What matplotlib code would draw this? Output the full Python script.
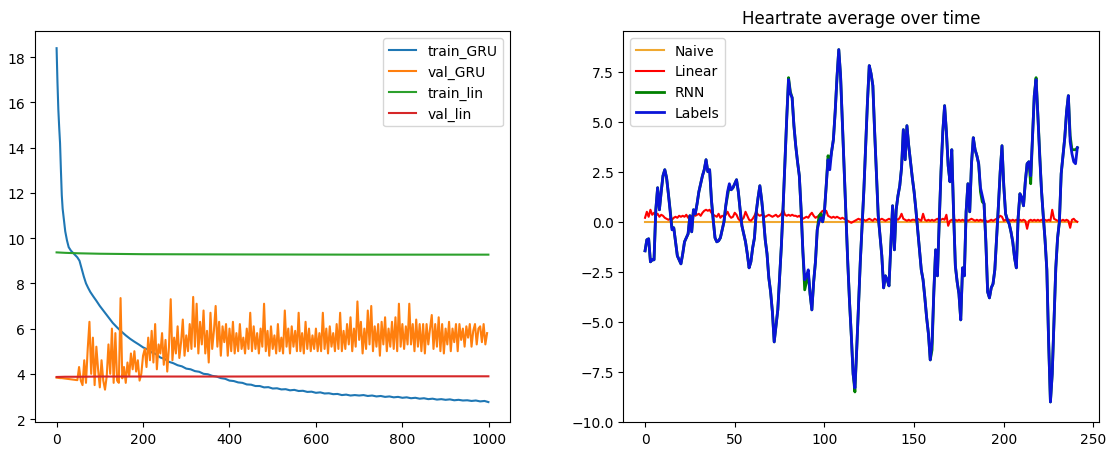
import numpy as np
import matplotlib
matplotlib.use("Agg")
import matplotlib.pyplot as plt

# ---- left panel: loss curves ----
gru_train_epochs = [0, 2, 4, 6, 8, 10, 12, 14, 17, 20, 24, 28, 33, 38, 43, 48, 53, 58, 63, 68,
                    73, 78, 85, 92, 100, 110, 120, 130, 140, 150, 160, 170, 180, 190, 200,
                    210, 220, 230, 240, 250, 260, 270, 280, 290, 300, 310, 320, 330, 340, 350,
                    360, 370, 380, 390, 400, 410, 420, 430, 440, 450, 460, 470, 480, 490, 500,
                    510, 520, 530, 540, 550, 560, 570, 580, 590, 600, 610, 620, 630, 640, 650,
                    660, 670, 680, 690, 700, 710, 720, 730, 740, 750, 760, 770, 780, 790, 800,
                    810, 820, 830, 840, 850, 860, 870, 880, 890, 900, 910, 920, 930, 940, 950,
                    960, 970, 980, 990, 999]
train_gru = [18.4, 16.9, 15.7, 14.9, 14.2, 13.0, 11.9, 11.3, 10.8, 10.3, 9.9, 9.6, 9.45, 9.35, 9.25,
             9.15, 9.0, 8.65, 8.3, 8.0, 7.8, 7.62, 7.42, 7.23, 7.0, 6.75, 6.5, 6.25, 6.05, 5.87,
             5.7, 5.55, 5.42, 5.3, 5.17,
             5.08, 4.95, 4.87, 4.72, 4.66, 4.53, 4.47, 4.38, 4.33, 4.23, 4.2, 4.12, 4.09, 4.0, 3.98,
             3.91, 3.88, 3.81, 3.78, 3.7, 3.68, 3.62, 3.6, 3.53, 3.52, 3.46, 3.46, 3.4, 3.41, 3.35,
             3.36, 3.31, 3.32, 3.27, 3.29, 3.24, 3.25, 3.2, 3.21, 3.16, 3.18, 3.13, 3.14, 3.1, 3.11,
             3.06, 3.08, 3.04, 3.06, 3.04, 3.06, 3.02, 3.04, 3.0, 3.02, 2.98, 3.0, 2.96, 2.98, 2.94,
             2.96, 2.92, 2.94, 2.9, 2.92, 2.88, 2.9, 2.86, 2.88, 2.85, 2.87, 2.83, 2.85, 2.82, 2.83,
             2.8, 2.82, 2.78, 2.8, 2.75]

# val_GRU sampled every 4 epochs (0 .. 996)
val_gru = [
    # 0-48
    3.83, 3.82, 3.81, 3.81, 3.80, 3.79, 3.78, 3.77, 3.76, 3.75, 3.74, 3.73, 3.72,
    # 52-196
    4.3, 3.7, 3.5, 4.6, 3.6, 5.1, 6.3, 4.0, 5.6, 3.5, 5.2, 4.2, 3.4, 4.6, 3.7, 3.3, 3.9, 5.3,
    4.0, 6.0, 3.6, 5.8, 3.7, 3.6, 7.35, 3.8, 4.3, 3.6, 4.5, 3.9, 4.9, 4.2, 5.0, 4.1, 4.6, 3.7, 4.0,
    # 200-260
    4.8, 5.1, 4.3, 5.6, 4.6, 5.9, 4.5, 6.2, 4.2, 5.3, 4.9, 5.8, 4.4, 5.5, 4.1, 5.2,
    # 264-400
    7.3, 4.6, 5.6, 4.9, 6.1, 4.7, 5.4, 6.4, 4.8, 5.7, 5.0, 6.2, 5.1, 7.4, 5.2, 7.1, 4.9, 6.3,
    5.3, 6.8, 4.9, 5.9, 4.5, 6.7, 5.1, 5.9, 7.0, 5.2, 6.3, 4.8, 6.1, 5.4, 6.2, 4.8, 6.0,
    # 404-660
    5.0, 6.3, 4.9, 5.8, 5.0, 6.2, 5.1, 5.6, 4.9, 6.0, 5.1, 6.7, 5.0, 6.1, 5.1, 5.8, 4.9, 6.0,
    5.2, 7.1, 5.0, 5.9, 4.8, 6.1, 5.1, 5.7, 4.9, 6.2, 5.0, 5.6, 4.9, 6.8, 5.2, 6.0, 4.9, 6.1,
    5.2, 5.9, 5.0, 6.7, 5.0, 5.8, 4.9, 6.3, 5.1, 6.0, 5.0, 5.7, 5.1, 6.0, 5.0, 5.8, 5.0, 6.7,
    5.1, 6.0, 4.9, 6.1, 5.2, 5.8, 5.0, 6.2, 5.1, 6.7, 5.0,
    # 664-996
    5.9, 5.1, 6.2, 5.3, 6.5, 5.0, 6.0, 5.2, 7.2, 5.5, 6.3, 4.9, 6.0, 5.1, 6.8, 5.3, 7.0, 5.0,
    6.1, 5.2, 6.2, 4.8, 6.3, 5.3, 6.5, 5.0, 6.0, 5.2, 6.3, 5.1, 6.5, 5.0, 7.1, 5.2, 6.2, 5.1,
    6.1, 5.3, 7.1, 5.3, 6.2, 5.0, 6.4, 5.2, 6.2, 5.0, 6.2, 4.9, 6.2, 5.3, 6.0, 6.6, 5.1, 6.2,
    5.2, 6.5, 5.0, 6.2, 4.9, 6.0, 5.3, 6.3, 5.0, 6.0, 5.4, 6.2, 5.0, 6.2, 5.5, 6.0, 5.2, 6.1,
    5.6, 6.2, 5.2, 5.9, 6.2, 5.3, 6.0, 6.1, 5.4, 6.2, 5.3, 5.8,
]
val_gru_epochs = np.arange(len(val_gru)) * 4

lin_epochs = [0, 20, 50, 100, 200, 400, 700, 999]
train_lin = [9.37, 9.35, 9.33, 9.31, 9.29, 9.28, 9.27, 9.27]
val_lin = [3.86, 3.87, 3.87, 3.88, 3.88, 3.88, 3.89, 3.89]

# ---- right panel: heartrate average over time ----
labels = [
    -1.45, -0.9, -0.85, -2.0, -1.9, -1.9, 0.6, 1.7, 0.6, 1.5,      # 0
    2.3, 2.6, 2.2, 1.4, 0.5, -0.4, -0.3, -1.0, -1.7, -1.9,          # 10
    -2.1, -1.6, -1.0, -0.8, -0.6, 0.3, -0.5, 0.6, 0.4, 0.9,         # 20
    1.5, 1.9, 2.3, 2.6, 3.1, 2.5, 2.6, 1.1, 0.1, -0.8,              # 30
    -1.0, -0.95, -0.8, -0.4, 0.0, 0.8, 1.5, 1.9, 1.6, 1.7,          # 40
    1.9, 2.1, 1.5, 0.6, -0.2, -0.6, -1.0, -1.6, -2.3, -2.0,         # 50
    -1.3, -0.8, 0.5, 1.2, 1.8, 1.1, 0.2, -0.9, -1.6, -2.8,          # 60
    -3.5, -4.5, -6.0, -5.2, -4.4, -2.8, -1.2, 0.8, 3.0, 5.2,        # 70
    7.1, 6.4, 6.2, 4.8, 3.8, 3.0, 2.3, 0.6, -1.5, -2.9,             # 80
    -2.7, -2.4, -3.6, -4.4, -3.0, -2.0, -0.4, 0.0, 0.2, 0.0,        # 90
    0.5, 1.8, 3.1, 2.6, 3.5, 4.1, 5.5, 7.2, 8.6, 7.3,               # 100
    5.0, 2.6, 0.3, -2.0, -4.0, -5.7, -7.6, -8.3, -6.4, -4.2,        # 110
    -2.0, -0.2, 1.6, 3.8, 6.0, 7.8, 7.4, 6.8, 4.5, 2.4,             # 120
    0.3, -0.7, -1.7, -3.3, -2.7, -2.9, -3.2, -1.2, 0.8, -1.4,       # 130
    0.6, 1.3, 1.8, 2.7, 4.6, 3.1, 4.8, 3.8, 3.0, 2.2,               # 140
    1.5, 0.6, -0.4, -1.4, -2.4, -2.9, -3.8, -4.8, -5.6, -6.9,       # 150
    -6.0, -3.5, -1.4, -2.7, 0.0, 2.5, 4.5, 5.8, 4.5, 2.8,           # 160
    2.0, 3.6, 0.5, -2.2, -3.0, -3.6, -4.9, -2.3, -2.7, 0.5,         # 170
    1.9, 0.5, 2.9, 4.2, 3.6, 3.3, 2.9, 1.7, 1.3, 0.9,               # 180
    -1.0, -3.5, -3.8, -3.3, -3.1, -2.4, -0.8, 0.8, 2.5, 3.8,        # 190
    1.8, 0.4, 0.1, -0.1, -0.5, -1.0, -1.8, -2.3, 0.2, 1.4,          # 200
    1.2, 0.8, 2.0, 2.9, 3.0, 2.3, 4.2, 6.3, 7.1, 5.3,               # 210
    3.3, 1.6, 0.3, -0.9, -2.4, -6.0, -9.0, -7.6, -5.0, -2.3,        # 220
    -0.8, 0.0, 2.4, 3.3, 4.2, 5.5, 6.3, 4.0, 3.4, 3.0,              # 230
    2.9, 3.7,                                                        # 240
]
rnn = [
    -1.45, -0.9, -0.85, -2.0, -1.9, -1.9, 0.6, 1.7, 0.6, 1.5,      # 0
    2.3, 2.6, 2.2, 1.4, 0.6, -0.3, -0.3, -1.0, -1.7, -1.9,          # 10
    -2.1, -1.6, -1.0, -0.8, -0.6, 0.3, -0.5, 0.6, 0.4, 0.9,         # 20
    1.5, 1.9, 2.3, 2.6, 3.1, 2.5, 2.6, 1.1, 0.1, -0.8,              # 30
    -1.0, -0.95, -0.8, -0.4, 0.0, 0.8, 1.3, 1.8, 1.6, 1.7,          # 40
    1.9, 2.1, 1.5, 0.6, -0.2, -0.6, -1.0, -1.6, -2.3, -2.0,         # 50
    -1.3, -0.8, 0.5, 1.2, 1.8, 1.1, 0.2, -0.9, -1.6, -2.8,          # 60
    -3.5, -4.5, -6.0, -5.2, -4.4, -2.8, -1.2, 0.8, 3.0, 5.2,        # 70
    7.2, 6.5, 6.2, 4.8, 3.8, 3.0, 2.3, 0.6, -1.5, -3.4,             # 80
    -3.0, -2.6, -3.6, -4.4, -3.0, -2.0, -0.4, 0.3, 0.4, 0.0,        # 90
    0.5, 1.8, 3.3, 3.0, 3.5, 4.1, 5.5, 7.2, 8.6, 7.3,               # 100
    5.0, 2.6, 0.3, -2.0, -4.0, -5.7, -7.6, -8.5, -6.4, -4.2,        # 110
    -2.0, -0.2, 1.6, 3.8, 6.0, 7.8, 7.4, 6.8, 4.5, 2.4,             # 120
    0.3, -0.7, -1.7, -3.3, -2.7, -2.9, -3.2, -1.2, 0.8, -1.4,       # 130
    0.6, 1.3, 1.8, 2.7, 4.6, 3.1, 4.8, 3.8, 3.0, 2.2,               # 140
    1.5, 0.6, -0.4, -1.4, -2.4, -2.9, -3.8, -4.8, -5.6, -6.9,       # 150
    -6.4, -3.5, -1.4, -2.7, 0.0, 2.5, 4.5, 5.8, 4.5, 2.8,           # 160
    2.0, 3.6, 0.5, -2.2, -3.0, -3.6, -4.9, -2.3, -2.7, 0.5,         # 170
    1.9, 0.5, 2.9, 4.2, 3.6, 3.3, 2.9, 1.5, 1.0, 0.9,               # 180
    -1.0, -3.5, -3.8, -3.3, -3.1, -2.4, -0.8, 0.8, 2.5, 3.8,        # 190
    1.8, 0.4, 0.1, -0.1, -0.5, -1.0, -1.8, -2.3, 0.2, 1.4,          # 200
    1.2, 0.8, 2.0, 2.9, 3.0, 1.9, 4.2, 6.3, 7.2, 5.3,               # 210
    3.3, 1.6, 0.3, -0.9, -2.4, -6.0, -9.0, -7.6, -5.0, -2.3,        # 220
    -0.8, 0.0, 2.4, 3.3, 4.2, 5.5, 6.3, 4.3, 3.6, 3.6,              # 230
    3.6, 3.7,                                                        # 240
]
linear = [
    0.20, 0.50, 0.25, 0.60, 0.35, 0.45, 0.30, 0.40, 0.25, 0.35,
    0.30, 0.20, 0.15, 0.10, 0.15, 0.10, 0.20, 0.25, 0.20, 0.30,
    0.25, 0.30, 0.25, 0.35, 0.20, 0.30, 0.25, 0.40, 0.30, 0.35,
    0.40, 0.30, 0.45, 0.55, 0.60, 0.55, 0.60, 0.45, 0.35, 0.30,
    0.25, 0.40, 0.20, 0.30, 0.25, 0.35, 0.50, 0.30, 0.20, 0.25,
    0.45, 0.35, 0.15, 0.05, 0.10, 0.20, 0.50, 0.30, 0.10, 0.05,
    0.15, 0.30, 0.50, 0.35, 0.30, 0.35, 0.30, 0.25, 0.30, 0.35,
    0.30, 0.25, 0.30, 0.35, 0.25, 0.30, 0.40, 0.60, 0.35, 0.30,
    0.35, 0.30, 0.35, 0.30, 0.30, 0.25, 0.30, 0.20, 0.15, 0.20,
    0.25, 0.20, 0.35, 0.45, 0.30, 0.20, 0.25, 0.30, 0.45, 0.55,
    0.50, 0.55, 0.30, 0.25, 0.20, 0.25, 0.20, 0.25, 0.20, 0.15,
    0.20, 0.15, 0.10, 0.05, 0.00, -0.05, 0.00, 0.05, 0.10, 0.15,
    0.10, 0.15, 0.10, 0.05, 0.10, 0.15, 0.10, 0.05, 0.15, 0.10,
    0.05, 0.10, 0.15, 0.10, 0.05, 0.10, 0.15, 0.10, 0.05, 0.10,
    0.15, 0.10, 0.20, 0.40, 0.15, 0.10, 0.05, 0.10, 0.05, 0.10,
    0.10, 0.05, 0.15, 0.10, 0.05, 0.40, 0.10, 0.05, 0.10, 0.05,
    0.10, 0.05, 0.10, 0.15, 0.05, 0.10, 0.15, 0.10, 0.35, -0.20,
    0.05, 0.10, 0.05, 0.10, 0.05, 0.10, 0.05, 0.10, 0.05, 0.10,
    0.05, 0.10, 0.15, 0.10, 0.05, 0.10, 0.05, 0.10, 0.05, 0.10,
    0.05, 0.00, 0.05, 0.10, 0.05, 0.10, 0.15, 0.20, 0.30, 0.25,
    0.05, 0.10, 0.05, 0.10, 0.05, 0.10, 0.05, 0.10, 0.05, 0.10,
    0.05, 0.10, 0.05, -0.35, 0.05, 0.10, 0.05, 0.10, 0.05, 0.10,
    0.05, 0.10, 0.05, 0.10, 0.05, 0.10, 0.05, 0.60, 0.15, 0.10,
    0.05, 0.10, 0.05, 0.10, 0.05, 0.10, 0.05, -0.30, 0.10, 0.15,
    0.05, 0.00,
]
naive = [0.0] * len(labels)
steps = np.arange(len(labels))

fig = plt.figure(figsize=(11.07, 4.52), dpi=100)

ax_loss = fig.add_axes([0.0316, 0.0642, 0.4291, 0.865])
ax_loss.plot(gru_train_epochs, train_gru, label='train_GRU')
ax_loss.plot(val_gru_epochs, val_gru, label='val_GRU')
ax_loss.plot(lin_epochs, train_lin, label='train_lin')
ax_loss.plot(lin_epochs, val_lin, label='val_lin')
ax_loss.set_xlim(-50, 1049)
ax_loss.set_ylim(1.87, 19.16)
ax_loss.set_yticks([2, 4, 6, 8, 10, 12, 14, 16, 18])
ax_loss.legend(loc='upper right')

ax_hr = fig.add_axes([0.5631, 0.0642, 0.4297, 0.865])
ax_hr.plot(steps, naive, c='#f0a830', label='Naive')
ax_hr.plot(steps, linear, c='red', label='Linear')
ax_hr.plot(steps, rnn, c='green', lw=2, label='RNN')
ax_hr.plot(steps, labels, c='#0a14d8', lw=2, label='Labels')
ax_hr.set_xlim(-12.1, 253.1)
ax_hr.set_ylim(-10.0, 9.53)
ax_hr.set_title('Heartrate average over time')
ax_hr.legend(loc='upper left')

fig.savefig('out.png', dpi=100)
